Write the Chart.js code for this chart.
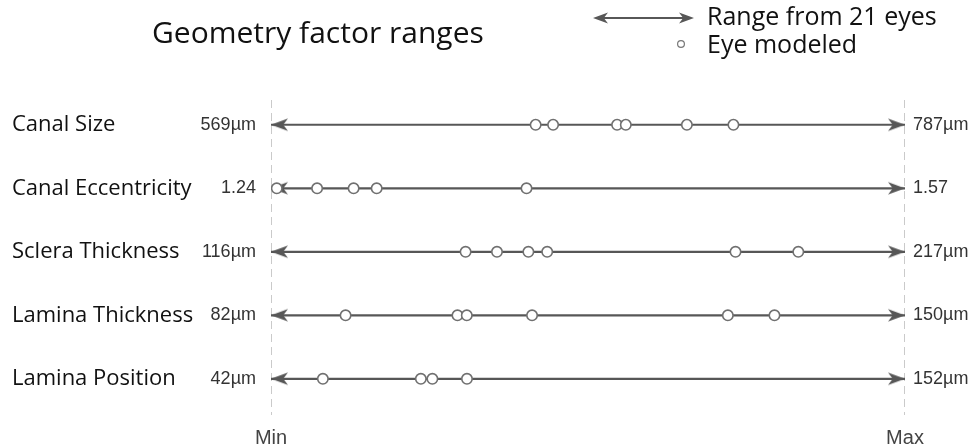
<!DOCTYPE html>
<html>
<head>
<meta charset="utf-8">
<script src="https://cdn.jsdelivr.net/npm/chart.js@4.4.0/dist/chart.umd.min.js"></script>
<style>
html,body{margin:0;padding:0;background:#fff;}
canvas{display:block;}
</style>
</head>
<body>
<canvas id="c" width="970" height="445"></canvas>
<script>
// ---- data ----
const chartTitle = 'Geometry factor ranges';
const legendRangeText = 'Range from 21 eyes';
const legendEyeText = 'Eye modeled';
const rowNames = ['Canal Size', 'Canal Eccentricity', 'Sclera Thickness', 'Lamina Thickness', 'Lamina Position'];
const minLabels = ['569\u00b5m', '1.24', '116\u00b5m', '82\u00b5m', '42\u00b5m'];
const maxLabels = ['787\u00b5m', '1.57', '217\u00b5m', '150\u00b5m', '152\u00b5m'];
const xTickLabels = ['Min', 'Max'];
const rangeMin = [569, 1.24, 116, 82, 42];
const rangeMax = [787, 1.57, 217, 150, 152];
const canalSize = [660, 666, 688, 691, 712, 728];
const canalEccentricity = [1.243, 1.264, 1.283, 1.295, 1.373];
const scleraThickness = [147, 152, 157, 160, 190, 200];
const laminaThickness = [90, 102, 103, 110, 131, 136];
const laminaPosition = [51, 68, 70, 76];
const eyeSeries = [canalSize, canalEccentricity, scleraThickness, laminaThickness, laminaPosition];

// ---- styling helpers ----
const Y_MIN = -0.39, Y_MAX = 4.57;
const lineColor = '#575757';
const textFont = '"Open Sans", "Noto Sans", sans-serif';
const numFont = '"Liberation Sans", Arial, sans-serif';
const norm = (v, i) => (v - rangeMin[i]) / (rangeMax[i] - rangeMin[i]);

function makeArrowHead(len, half, color) {
  const c = document.createElement('canvas');
  c.width = len * 2;
  c.height = Math.ceil(half * 2 + 2);
  const g = c.getContext('2d');
  const cy = c.height / 2, tip = len;
  g.fillStyle = color;
  g.beginPath();
  g.moveTo(tip, cy);
  g.lineTo(tip - len, cy - half);
  g.lineTo(tip - len * 0.72, cy);
  g.lineTo(tip - len, cy + half);
  g.closePath();
  g.fill();
  return c;
}
const head = makeArrowHead(17, 6.2, lineColor);

const datasets = [];
eyeSeries.forEach((vals, i) => {
  datasets.push({
    label: rowNames[i] + ' eyes',
    data: vals.map(v => ({x: norm(v, i), y: i})),
    pointRadius: 5.2,
    pointBackgroundColor: '#ffffff',
    pointBorderColor: '#707070',
    pointBorderWidth: 1.6,
    showLine: false,
    order: 0
  });
});
rowNames.forEach((name, i) => {
  datasets.push({
    label: name + ' range',
    data: [{x: 0, y: i}, {x: 1, y: i}],
    showLine: true,
    borderColor: lineColor,
    borderWidth: 2.2,
    pointStyle: [head, head],
    pointRotation: [180, 0],
    pointRadius: 1,
    order: 1
  });
});
[0, 1].forEach(xv => {
  datasets.push({
    label: 'bound',
    data: [{x: xv, y: Y_MIN}, {x: xv, y: Y_MAX}],
    showLine: true,
    borderColor: '#b4b4b4',
    borderWidth: 1.4,
    borderDash: [8, 5],
    pointRadius: 0,
    order: 2
  });
});

const fixedTicks = (scale) => { scale.ticks = rowNames.map((_, i) => ({value: i})); };

const headerPlugin = {
  id: 'header',
  afterDraw(chart) {
    const ctx = chart.ctx;
    ctx.save();
    ctx.fillStyle = '#111';
    ctx.textAlign = 'left';
    ctx.textBaseline = 'alphabetic';
    ctx.font = '30px ' + textFont;
    ctx.fillText(chartTitle, 152, 43);
    // legend: double arrow
    ctx.strokeStyle = lineColor;
    ctx.fillStyle = lineColor;
    ctx.lineWidth = 2;
    ctx.beginPath();
    ctx.moveTo(598, 18); ctx.lineTo(688, 18); ctx.stroke();
    const drawHead = (tipX, dir) => {
      const len = 15, half = 5.5;
      ctx.beginPath();
      ctx.moveTo(tipX, 18);
      ctx.lineTo(tipX - dir * len, 18 - half);
      ctx.lineTo(tipX - dir * len * 0.72, 18);
      ctx.lineTo(tipX - dir * len, 18 + half);
      ctx.closePath();
      ctx.fill();
    };
    drawHead(593, -1);
    drawHead(694, 1);
    // legend: circle
    ctx.beginPath();
    ctx.fillStyle = '#fff';
    ctx.strokeStyle = '#777';
    ctx.lineWidth = 1.2;
    ctx.arc(681, 44, 3.4, 0, Math.PI * 2);
    ctx.fill();
    ctx.stroke();
    ctx.fillStyle = '#111';
    ctx.font = '25px ' + textFont;
    ctx.fillText(legendRangeText, 707, 25);
    ctx.fillText(legendEyeText, 707, 53);
    ctx.restore();
  }
};

new Chart(document.getElementById('c'), {
  type: 'scatter',
  data: {datasets},
  options: {
    responsive: false,
    animation: false,
    events: [],
    layout: {padding: {left: 12, right: 0, top: 100, bottom: 0}},
    plugins: {legend: {display: false}, tooltip: {enabled: false}, title: {display: false}},
    scales: {
      x: {
        type: 'linear', position: 'bottom', min: 0, max: 1,
        grid: {display: false, drawTicks: false}, border: {display: false},
        afterBuildTicks: (s) => { s.ticks = [{value: 0}, {value: 1}]; },
        afterFit: (s) => { s.height = 30; },
        ticks: {
          padding: 11, autoSkip: false, maxRotation: 0, color: '#444',
          font: {family: numFont, size: 20},
          callback: (v, i) => xTickLabels[i]
        }
      },
      y: {
        type: 'linear', position: 'left', weight: 0, min: Y_MIN, max: Y_MAX, reverse: true,
        grid: {display: false, drawTicks: false}, border: {display: false},
        afterBuildTicks: fixedTicks,
        afterFit: (s) => { s.width = 73; },
        ticks: {
          padding: 15, autoSkip: false, color: '#333',
          font: {family: numFont, size: 18},
          callback: (v, i) => minLabels[i]
        }
      },
      yNames: {
        type: 'linear', position: 'left', weight: 1, min: Y_MIN, max: Y_MAX, reverse: true,
        grid: {display: false, drawTicks: false}, border: {display: false},
        afterBuildTicks: fixedTicks,
        afterFit: (s) => { s.width = 186; },
        ticks: {
          padding: 0, autoSkip: false, crossAlign: 'far', color: '#111',
          font: {family: textFont, size: 22},
          callback: (v, i) => rowNames[i]
        }
      },
      yMax: {
        type: 'linear', position: 'right', weight: 0, min: Y_MIN, max: Y_MAX, reverse: true,
        grid: {display: false, drawTicks: false}, border: {display: false},
        afterBuildTicks: fixedTicks,
        afterFit: (s) => { s.width = 65; },
        ticks: {
          padding: 8, autoSkip: false, color: '#333',
          font: {family: numFont, size: 18},
          callback: (v, i) => maxLabels[i]
        }
      }
    }
  },
  plugins: [headerPlugin]
});
</script>
</body>
</html>
